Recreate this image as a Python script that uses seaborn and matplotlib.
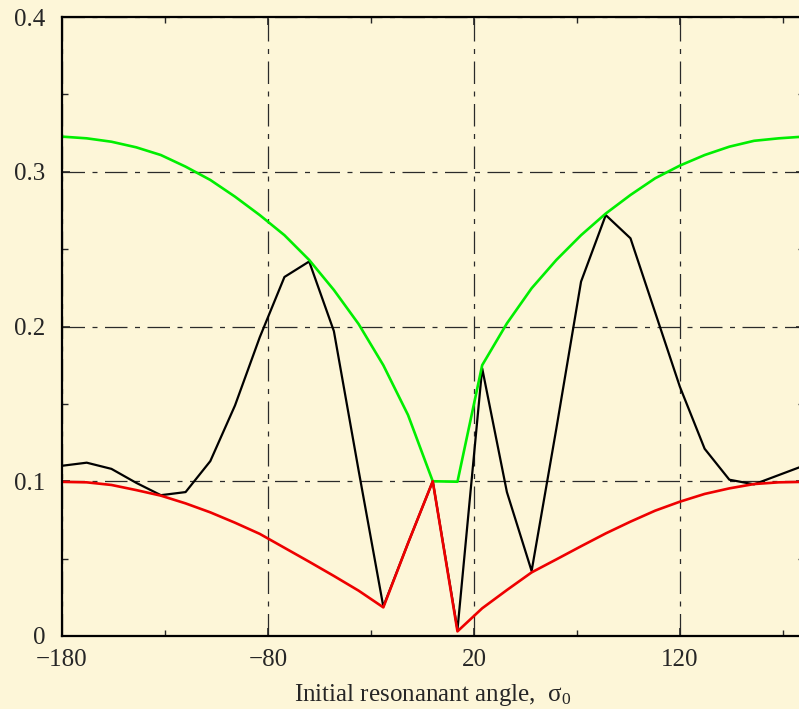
import numpy as np
import pandas as pd
import matplotlib
matplotlib.use('Agg')
import matplotlib.pyplot as plt
import seaborn as sns
from matplotlib.ticker import FixedLocator, FuncFormatter

# Initial resonant angle (deg), sampled every 12 deg
angle = [-180, -168, -156, -144, -132, -120, -108, -96, -84, -72, -60, -48,
         -36, -24, -12, 0, 12, 24, 36, 48, 60, 72, 84, 96, 108, 120, 132,
         144, 156, 168, 180]

# black curve
black = [0.110, 0.112, 0.108, 0.099, 0.091, 0.093, 0.113, 0.149, 0.193, 0.232,
         0.242, 0.197, 0.107, 0.019, 0.060, 0.100, 0.004, 0.173, 0.093, 0.042,
         0.134, 0.229, 0.272, 0.257, 0.209, 0.161, 0.121, 0.101, 0.098, 0.104,
         0.110]

# upper envelope (green)
green = [0.3227, 0.3216, 0.3194, 0.3158, 0.3108, 0.3033, 0.2947, 0.2839, 0.272,
         0.259, 0.243, 0.2236, 0.2016, 0.175, 0.1428, 0.100, 0.0997, 0.175,
         0.202, 0.2247, 0.243, 0.259, 0.273, 0.285, 0.2958, 0.304, 0.3108,
         0.3162, 0.320, 0.3216, 0.3227]

# lower envelope (red)
red = [0.0996, 0.0993, 0.0976, 0.0943, 0.0907, 0.0857, 0.0799, 0.0732, 0.066,
       0.057, 0.048, 0.0388, 0.0293, 0.0185, 0.060, 0.100, 0.003, 0.0179,
       0.0297, 0.0411, 0.0495, 0.058, 0.0663, 0.0739, 0.081, 0.0868, 0.0918,
       0.0954, 0.0982, 0.0993, 0.0996]

x_major = [-180, -80, 20, 120]
x_minor = [-130, -30, 70, 170]
y_major = [0, 0.1, 0.2, 0.3, 0.4]
y_minor = [0.05, 0.15, 0.25, 0.35]

df = pd.DataFrame({'angle': angle, 'black': black, 'green': green, 'red': red})

bg = '#fdf6d8'
sns.set_style('ticks', {'axes.facecolor': bg, 'figure.facecolor': bg})
plt.rcParams['font.family'] = ['Liberation Serif', 'DejaVu Serif']
plt.rcParams['mathtext.fontset'] = 'custom'
plt.rcParams['mathtext.rm'] = 'Liberation Serif'
plt.rcParams['mathtext.it'] = 'Liberation Serif'
plt.rcParams['axes.unicode_minus'] = True

fig = plt.figure(figsize=(7.99, 7.09), dpi=100)
ax = fig.add_axes([62 / 799, 73 / 709, 741.5 / 799, 619 / 709])

# draw order: black under green under red
sns.lineplot(data=df, x='angle', y='black', color='black', lw=1.6, ax=ax, zorder=3)
sns.lineplot(data=df, x='angle', y='green', color='#00ee00', lw=1.9, ax=ax, zorder=4)
sns.lineplot(data=df, x='angle', y='red', color='#ee0000', lw=1.9, ax=ax, zorder=5)

ax.set_xlim(-180, 180)
ax.set_ylim(0, 0.4)
ax.xaxis.set_major_locator(FixedLocator(x_major))
ax.xaxis.set_minor_locator(FixedLocator(x_minor))
ax.yaxis.set_major_locator(FixedLocator(y_major))
ax.yaxis.set_minor_locator(FixedLocator(y_minor))
ax.yaxis.set_major_formatter(FuncFormatter(lambda v, p: f'{v:g}'))

ax.grid(True, which='major', color='#2a2a2a', lw=0.9, linestyle=(0, (18, 6, 4, 6)))
for s in ax.spines.values():
    s.set_linewidth(1.6)
    s.set_color('black')
    s.set_zorder(6)

ax.tick_params(which='both', direction='in', top=True, right=True, labelsize=18)
ax.tick_params(which='major', length=6, width=1.2, pad=12)
ax.tick_params(axis='x', which='major', pad=9)
ax.tick_params(which='minor', length=4, width=1.0)

ax.set_xlabel('Initial resonanant angle,  σ$_{0}$', fontsize=18, labelpad=8)
ax.set_ylabel('')

fig.savefig('out.png', dpi=100, facecolor=bg)
